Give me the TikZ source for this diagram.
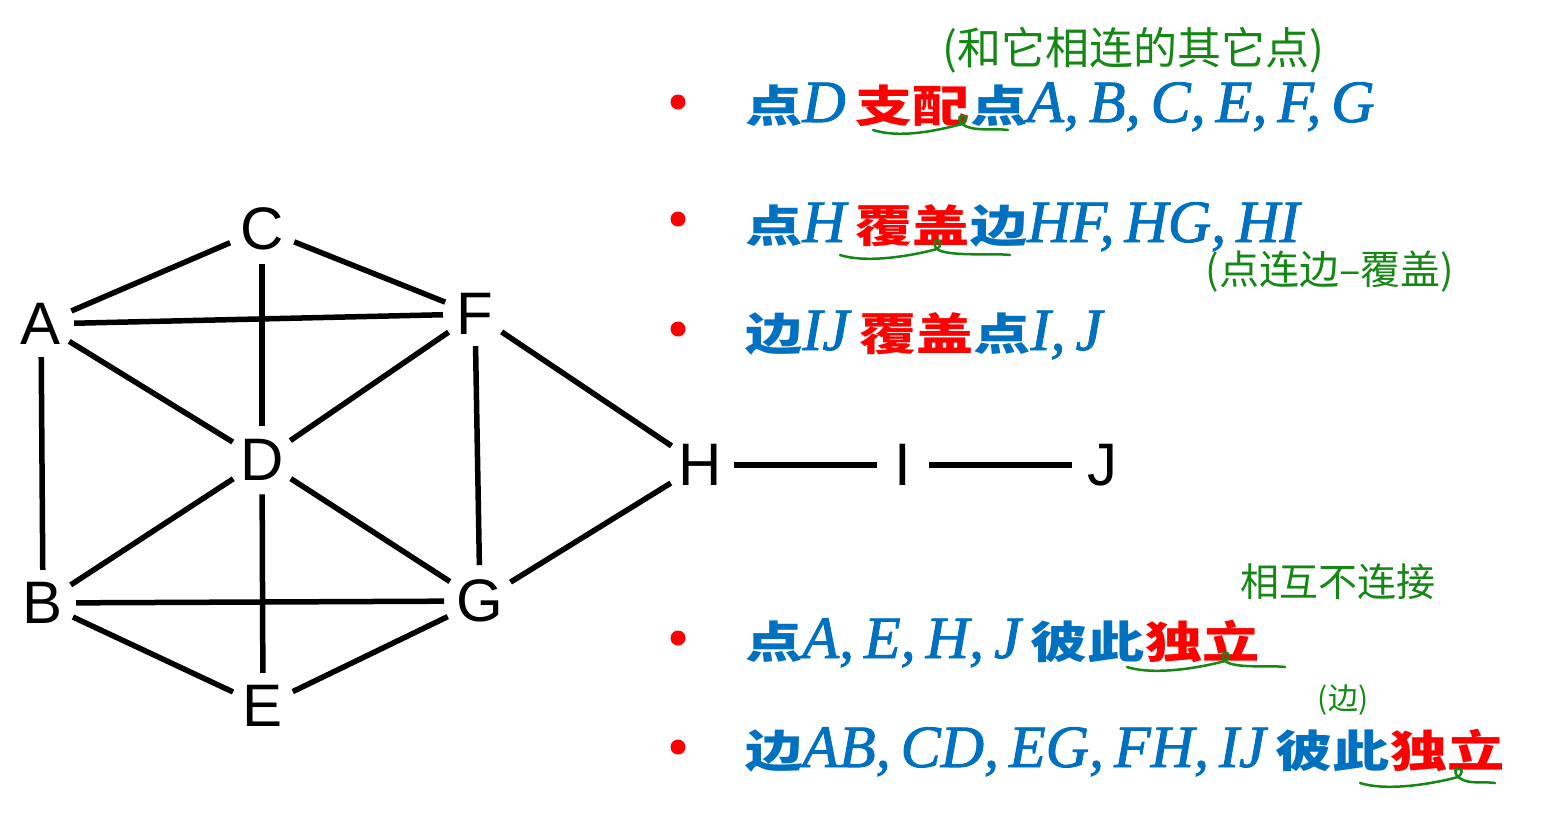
\documentclass[tikz,border=0pt]{standalone}
\usepackage{fontspec}
\setsansfont{Liberation Sans}
\newfontfamily\cjkfont{Noto Sans CJK SC}[FakeStretch=1.3]
\newfontfamily\handfont{Noto Sans CJK SC}
\newfontfamily\latfont{Liberation Serif}[ItalicFeatures={FakeBold=1.5}]
\usetikzlibrary{calc,positioning}
\definecolor{textblue}{RGB}{0,112,192}
\definecolor{handgreen}{RGB}{20,135,20}
\newcommand{\lat}[1]{{\latfont\mdseries\itshape\fontsize{60}{62}\selectfont #1}}
\newcommand{\redword}[1]{\textcolor{red}{#1}}
% freehand brace under a word: left x, tip x, right x, y
\newcommand{\handbrace}[4]{%
	\draw[handline] (#1,-#4) .. controls (#1+25,-#4-8) and (#2-30,-#4-2) .. (#2,-#4+6)
		.. controls (#2+12,-#4+16) and (#2-10,-#4+18) .. (#2,-#4+6)
		.. controls (#2+10,-#4-2) and (#3-15,-#4+2) .. (#3,-#4);}
\tikzset{
	vertex/.style={
		circle,
		inner sep=3pt,
		font=\sffamily\fontsize{60}{60}\selectfont},
	graphline/.style={draw, line width=5.5pt},
	bulletdot/.style={
		circle,
		fill=red,
		minimum size=15pt,
		inner sep=0pt},
	itemtext/.style={
		anchor=base west,
		inner sep=0pt,
		text=textblue,
		font=\cjkfont\bfseries\fontsize{44}{48}\selectfont},
	handnote/.style={
		text=handgreen,
		inner sep=0pt,
		font=\handfont\fontsize{#1}{#1}\selectfont},
	handline/.style={draw=handgreen, line width=2.5pt, line cap=round},
}
\begin{document}
\begin{tikzpicture}
[x=1pt, y=1pt]
\useasboundingbox (0,0) rectangle (1555,-839);
\node[vertex] (A) at (41,-324) {A};
\node[vertex] (C) at (262,-229) {C};
\node[vertex] (F) at (475,-314) {F};
\node[vertex] (D) at (262,-460) {D};
\node[vertex] (B) at (43,-603) {B};
\node[vertex] (G) at (480,-601) {G};
\node[vertex] (E) at (263,-706) {E};
\node[vertex] (H) at (700,-465) {H};
\node[vertex] (I) at (903,-465) {I};
\node[vertex] (J) at (1102,-465) {J};
\foreach \u/\v in {A/C,C/F,A/F,C/D,A/D,D/F,A/B,F/G,F/H,B/D,D/E,D/G,B/G,B/E,E/G,G/H,H/I,I/J}
	\draw[graphline] (\u) -- (\v);

\node[bulletdot] (dot1) at (678,-102) {};
\node[bulletdot] (dot2) at (678,-219) {};
\node[bulletdot] (dot3) at (678,-329) {};
\node[bulletdot] (dot4) at (678,-638) {};
\node[bulletdot] (dot5) at (678,-747) {};
\node[itemtext] (dominate) at (745,-122) {点\lat{D\,}\redword{支配}点\lat{A,\,B,\,C,\,E,\,F,\,G}};
\node[itemtext] (vcover) at (745,-242) {点\lat{H\,}\redword{覆盖}边\lat{HF,\,HG,\,HI}};
\node[itemtext] (ecover) at (745,-350) {边\lat{IJ\,}\redword{覆盖}点\lat{I,\,J}};
\node[itemtext] (vindep) at (745,-658) {点\lat{A,\,E,\,H,\,J\,}彼此\redword{独立}};
\node[itemtext] (eindep) at (745,-767) {边\lat{AB,\,CD,\,EG,\,FH,\,IJ\,}彼此\redword{独立}};

\node[handnote=44] (note1) at (1133,-50) {(和它相连的其它点)};
\node[handnote=40] (note2) at (1330,-272) {(点连边–覆盖)};
\node[handnote=39] (note3) at (1338,-582) {相互不连接};
\node[handnote=30] (note4) at (1343,-700) {(边)};
\handbrace{873}{962}{1008}{130}
\handbrace{840}{937}{1010}{255}
\handbrace{1127}{1225}{1285}{667}
\handbrace{1360}{1458}{1495}{783}
\end{tikzpicture}
\end{document}
